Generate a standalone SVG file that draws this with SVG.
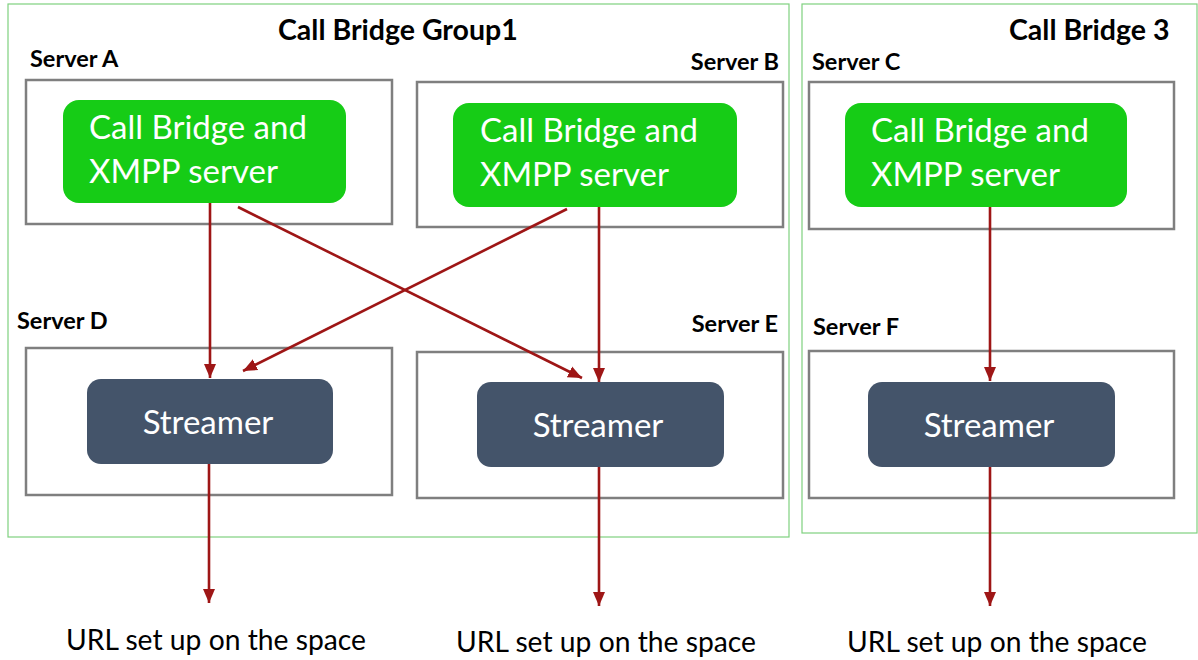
<svg xmlns="http://www.w3.org/2000/svg" width="1198" height="660" viewBox="0 0 1198 660">
  <style>
    .group { fill: none; stroke: #7fd17f; stroke-width: 1.2; }
    .server { fill: #ffffff; stroke: #7f7f7f; stroke-width: 2.5; }
    .cb { fill: #16cc16; }
    .st { fill: #44546a; }
    .title { font-family: Lato, "Open Sans", sans-serif; font-weight: bold; font-size: 28.5px; fill: #000; }
    .slabel { font-family: Lato, "Open Sans", sans-serif; font-weight: bold; font-size: 23.5px; fill: #000; }
    .ntext { font-family: Lato, "Open Sans", sans-serif; font-size: 33px; fill: #ffffff; }
    .url { font-family: Lato, "Open Sans", sans-serif; font-size: 28px; fill: #000; }
    .edge { stroke: #9e1616; stroke-width: 2.6; fill: none; marker-end: url(#arrow); }
  </style>
  <defs>
    <marker id="arrow" markerUnits="userSpaceOnUse" markerWidth="15" markerHeight="15" viewBox="0 0 15 15" refX="14" refY="7.5" orient="auto">
      <path d="M0,1.5 L14,7.5 L0,13.5 Z" fill="#9e1616"/>
    </marker>
  </defs>
  <rect width="1198" height="660" fill="#ffffff"/>

  <!-- clusters -->
  <g id="group1">
    <rect class="group" x="8" y="4" width="781" height="533"/>
    <text class="title" x="278" y="40">Call Bridge Group1</text>
  </g>
  <g id="group3">
    <rect class="group" x="802" y="4" width="395" height="529"/>
    <text class="title" x="1009" y="40">Call Bridge 3</text>
  </g>

  <!-- server boxes -->
  <g id="server-a">
    <text class="slabel" x="30" y="67">Server A</text>
    <rect class="server" x="26" y="80" width="366" height="144"/>
    <rect class="cb" x="63" y="100" width="283" height="103" rx="16"/>
    <text class="ntext" x="89" y="139">Call Bridge and</text>
    <text class="ntext" x="89" y="183">XMPP server</text>
  </g>
  <g id="server-b">
    <text class="slabel" x="779" y="70" text-anchor="end">Server B</text>
    <rect class="server" x="417" y="82" width="366" height="145"/>
    <rect class="cb" x="453" y="103" width="284" height="104" rx="16"/>
    <text class="ntext" x="480" y="142">Call Bridge and</text>
    <text class="ntext" x="480" y="186">XMPP server</text>
  </g>
  <g id="server-c">
    <text class="slabel" x="812" y="70">Server C</text>
    <rect class="server" x="809" y="82" width="365" height="147"/>
    <rect class="cb" x="845" y="103" width="282" height="104" rx="16"/>
    <text class="ntext" x="871" y="142">Call Bridge and</text>
    <text class="ntext" x="871" y="186">XMPP server</text>
  </g>
  <g id="server-d">
    <text class="slabel" x="17" y="329">Server D</text>
    <rect class="server" x="26" y="348" width="366" height="147"/>
    <rect class="st" x="87" y="379" width="246" height="85" rx="14"/>
    <text class="ntext" x="208" y="434" text-anchor="middle">Streamer</text>
  </g>
  <g id="server-e">
    <text class="slabel" x="778" y="332" text-anchor="end">Server E</text>
    <rect class="server" x="417" y="352" width="366" height="146"/>
    <rect class="st" x="477" y="382" width="247" height="85" rx="14"/>
    <text class="ntext" x="598" y="437" text-anchor="middle">Streamer</text>
  </g>
  <g id="server-f">
    <text class="slabel" x="813" y="335">Server F</text>
    <rect class="server" x="809" y="351" width="365" height="147"/>
    <rect class="st" x="868" y="382" width="247" height="85" rx="14"/>
    <text class="ntext" x="989" y="437" text-anchor="middle">Streamer</text>
  </g>

  <!-- outputs -->
  <g id="url-1"><text class="url" x="216" y="650" text-anchor="middle" textLength="300" lengthAdjust="spacingAndGlyphs">URL set up on the space</text></g>
  <g id="url-2"><text class="url" x="606" y="652" text-anchor="middle" textLength="300" lengthAdjust="spacingAndGlyphs">URL set up on the space</text></g>
  <g id="url-3"><text class="url" x="997" y="652" text-anchor="middle" textLength="300" lengthAdjust="spacingAndGlyphs">URL set up on the space</text></g>

  <!-- connectors -->
  <g id="connectors">
    <line class="edge" x1="210" y1="203" x2="210" y2="378"/>
    <line class="edge" x1="238" y1="207" x2="582" y2="378"/>
    <line class="edge" x1="567" y1="209" x2="243" y2="371"/>
    <line class="edge" x1="599" y1="207" x2="599" y2="382"/>
    <line class="edge" x1="990" y1="207" x2="990" y2="381"/>
    <line class="edge" x1="209" y1="464" x2="209" y2="603"/>
    <line class="edge" x1="599" y1="467" x2="599" y2="606"/>
    <line class="edge" x1="990" y1="467" x2="990" y2="606"/>
  </g>
</svg>
